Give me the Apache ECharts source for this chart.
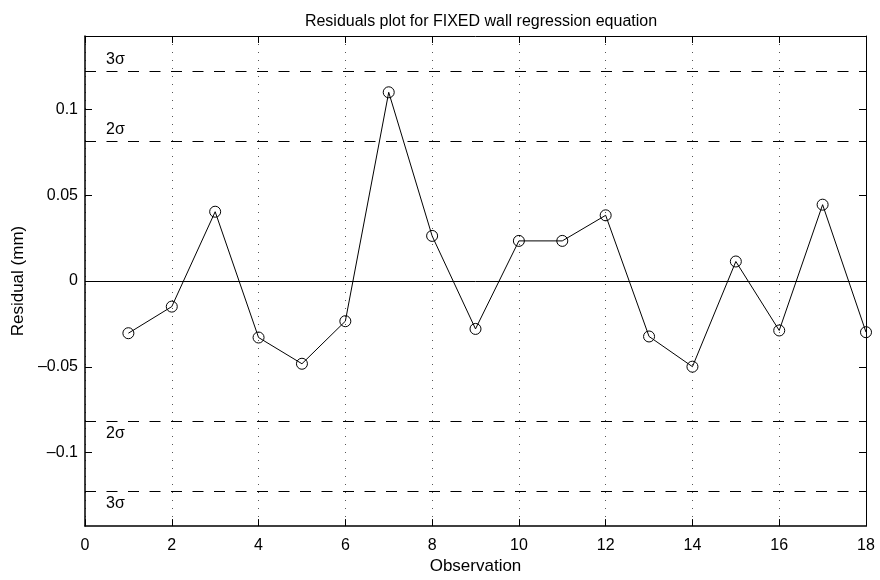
<!DOCTYPE html>
<html>
<head>
<meta charset="utf-8">
<script src="https://cdn.jsdelivr.net/npm/echarts@6/dist/echarts.min.js"></script>
<style>
  html, body { margin: 0; padding: 0; background: #fff; }
  #chart { width: 880px; height: 580px; }
</style>
</head>
<body>
<div id="chart"></div>
<script>
// Observation numbers and residuals (mm) from the fixed-wall regression
const observations = [1, 2, 3, 4, 5, 6, 7, 8, 9, 10, 11, 12, 13, 14, 15, 16, 17, 18];
const residuals = [-0.0304, -0.0149, 0.0404, -0.0329, -0.0482, -0.0234, 0.1100, 0.0263, -0.0279,
                   0.0234, 0.0234, 0.0383, -0.0323, -0.0499, 0.0114, -0.0288, 0.0445, -0.0298];

// Standard deviation of the residuals and the control limits drawn from it
const sigma = 0.0408;
const limitMultiples = [3, 2, -2, -3];
const limitLabels = ['3σ', '2σ', '2σ', '3σ'];

// Axis extents and tick values
const xMin = 0, xMax = 18, xStep = 2;
const yMin = -0.1428, yMax = 0.1428;
const yTicks = [-0.1, -0.05, 0, 0.05, 0.1];

const FONT = '"Liberation Sans", Arial, Helvetica, sans-serif';

const chart = echarts.init(document.getElementById('chart'), null, { renderer: 'canvas' });

const fmtY = v => {
  const s = String(Math.round(v * 1000) / 1000);
  return s.replace('-', '\u2013');
};

const sigmaLines = limitMultiples.map((m, i) => ({
  yAxis: m * sigma,
  label: {
    show: true,
    formatter: limitLabels[i],
    position: m > 0 ? 'insideStartTop' : 'insideStartBottom',
    distance: [21, m > 0 ? 3 : 5],
    color: '#000',
    fontFamily: FONT,
    fontSize: 16
  }
}));

const option = {
  animation: false,
  backgroundColor: '#fff',
  title: {
    text: 'Residuals plot for FIXED wall regression equation',
    left: 476,
    textAlign: 'center',
    top: 9,
    textStyle: { fontFamily: FONT, fontSize: 16, fontWeight: 'normal', color: '#000' }
  },
  grid: { left: 85, right: 14, top: 36, bottom: 51, containLabel: false },
  xAxis: [
    {
      type: 'value', min: xMin, max: xMax, interval: xStep,
      name: 'Observation', nameLocation: 'middle', nameGap: 31,
      nameTextStyle: { fontFamily: FONT, fontSize: 17, color: '#000' },
      axisLine: { show: true, onZero: false, lineStyle: { color: '#000', width: 1.5 } },
      axisTick: { show: true, inside: true, length: 7, lineStyle: { color: '#000', width: 1 } },
      axisLabel: { fontFamily: FONT, fontSize: 16, color: '#000', margin: 11 },
      splitLine: { show: true, lineStyle: { color: '#555', width: 1, type: [1, 7] } }
    },
    {
      type: 'value', min: xMin, max: xMax, interval: xStep, position: 'top',
      axisLine: { show: true, onZero: false, lineStyle: { color: '#000', width: 1 } },
      axisTick: { show: true, inside: true, length: 7, lineStyle: { color: '#000', width: 1 } },
      axisLabel: { show: false },
      splitLine: { show: false }
    }
  ],
  yAxis: [
    {
      type: 'value', min: yMin, max: yMax,
      name: 'Residual (mm)', nameLocation: 'middle', nameGap: 58,
      nameTextStyle: { fontFamily: FONT, fontSize: 17, color: '#000' },
      axisLine: { show: true, onZero: false, lineStyle: { color: '#000', width: 1.5 } },
      axisTick: { show: true, inside: true, length: 7, customValues: yTicks, lineStyle: { color: '#000', width: 1 } },
      axisLabel: { fontFamily: FONT, fontSize: 16, color: '#000', margin: 7, customValues: yTicks, formatter: fmtY },
      splitLine: { show: false }
    },
    {
      type: 'value', min: yMin, max: yMax, position: 'right',
      axisLine: { show: true, onZero: false, lineStyle: { color: '#000', width: 1 } },
      axisTick: { show: true, inside: true, length: 7, customValues: yTicks, lineStyle: { color: '#000', width: 1 } },
      axisLabel: { show: false, customValues: yTicks },
      splitLine: { show: false }
    }
  ],
  series: [
    {
      // zero reference line and the ±2σ / ±3σ limits
      type: 'line',
      data: [],
      xAxisIndex: 0, yAxisIndex: 0,
      silent: true,
      markLine: {
        silent: true,
        precision: 5,
        symbol: ['none', 'none'],
        animation: false,
        data: [
          { yAxis: 0, label: { show: false }, lineStyle: { type: 'solid', color: '#000', width: 1 } },
          ...sigmaLines
        ],
        lineStyle: { type: [11, 10.5], color: '#000', width: 1 }
      }
    },
    {
      name: 'Residual',
      type: 'line',
      xAxisIndex: 0, yAxisIndex: 0,
      data: observations.map((o, i) => [o, residuals[i]]),
      symbol: 'circle',
      symbolSize: 11,
      showAllSymbol: true,
      lineStyle: { color: '#000', width: 1 },
      itemStyle: { color: 'rgba(0,0,0,0)', borderColor: '#000', borderWidth: 1 },
      z: 5
    }
  ]
};

chart.setOption(option);
</script>
</body>
</html>
